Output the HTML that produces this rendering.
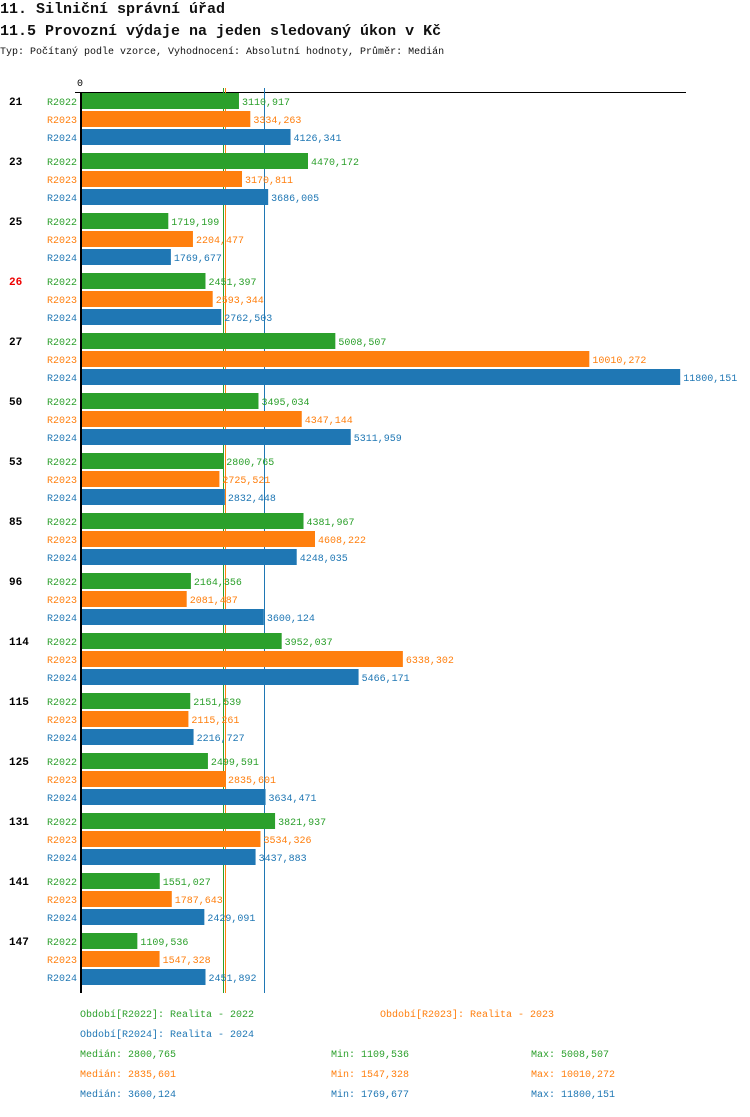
<!DOCTYPE html>
<html><head><meta charset="utf-8"><style>
body{margin:0;background:#fff;width:750px;height:1112px;overflow:hidden}
svg text{font-family:"Liberation Mono",monospace}
</style></head><body>
<svg id="c" width="750" height="1112" xmlns="http://www.w3.org/2000/svg">
<text x="0" y="13" font-size="15" font-weight="bold" fill="#111">11. Silniční správní úřad</text>
<text x="0" y="35" font-size="15" font-weight="bold" fill="#111">11.5 Provozní výdaje na jeden sledovaný úkon v Kč</text>
<text x="0" y="54" font-size="10" fill="#111">Typ: Počítaný podle vzorce, Vyhodnocení: Absolutní hodnoty, Průměr: Medián</text>
<text x="77" y="86" font-size="10" fill="#000">0</text>
<line x1="75" y1="92.5" x2="686" y2="92.5" stroke="#000" stroke-width="1"/>
<g id="lines"></g>
<g id="bars"></g>
<line x1="81" y1="92" x2="81" y2="993" stroke="#000" stroke-width="2"/>
<text x="80" y="1017" font-size="10" fill="#2ca02c">Období[R2022]: Realita - 2022</text>
<text x="380" y="1017" font-size="10" fill="#ff7f0e">Období[R2023]: Realita - 2023</text>
<text x="80" y="1037" font-size="10" fill="#1f77b4">Období[R2024]: Realita - 2024</text>
<g id="stats"></g>
</svg>
<script>
const categories=["21","23","25","26","27","50","53","85","96","114","115","125","131","141","147"];
const seriesNames=["R2022","R2023","R2024"];
const r2022=[3110.917,4470.172,1719.199,2451.397,5008.507,3495.034,2800.765,4381.967,2164.356,3952.037,2151.539,2499.591,3821.937,1551.027,1109.536];
const r2023=[3334.263,3170.811,2204.477,2593.344,10010.272,4347.144,2725.521,4608.222,2081.487,6338.302,2115.261,2835.601,3534.326,1787.643,1547.328];
const r2024=[4126.341,3686.005,1769.677,2762.503,11800.151,5311.959,2832.448,4248.035,3600.124,5466.171,2216.727,3634.471,3437.883,2429.091,2451.892];
const highlighted=["26"];
const colors=["#2ca02c","#ff7f0e","#1f77b4"];
const NS="http://www.w3.org/2000/svg";
const series=[r2022,r2023,r2024];
const x=v=>81+v*0.05078;
const fmt=v=>v.toFixed(3).replace('.',',');
function mk(tag,attrs,parent,txt){const e=document.createElementNS(NS,tag);for(const k in attrs)e.setAttribute(k,attrs[k]);if(txt!==undefined)e.textContent=txt;parent.appendChild(e);return e;}
const bars=document.getElementById('bars');
categories.forEach((c,i)=>{
  const gy=93+i*60;
  const t=mk('text',{x:9,y:gy+12,'font-size':11,'font-weight':'bold',fill:highlighted.includes(c)?'#e00':'#000'},bars,c);
  
  
  series.forEach((s,j)=>{
    const y=gy+j*18;
    const lab=mk('text',{x:77,y:y+12,'font-size':10,fill:colors[j],'text-anchor':'end'},bars,seriesNames[j]);
    
    
    const r=mk('rect',{x:82,y:y,width:Math.max(0,x(s[i])-82),height:16,fill:colors[j]},bars);
    
    
    const v=mk('text',{x:x(s[i])+3,y:y+12,'font-size':10,fill:colors[j]},bars,fmt(s[i]));
    
    
  });
});
const median=a=>{const b=[...a].sort((p,q)=>p-q);return b[Math.floor(b.length/2)];};
const lines=document.getElementById('lines');
const stats=document.getElementById('stats');
series.forEach((s,j)=>{
  const m=median(s);
  const l=mk('line',{x1:Math.round(x(m))+0.5,y1:88,x2:Math.round(x(m))+0.5,y2:993,stroke:colors[j],'stroke-width':1},lines);
  
  
  const y=1057+j*20;
  const a=mk('text',{x:80,y:y,'font-size':10,fill:colors[j]},stats,'Medián: '+fmt(m));
  
  
  const b=mk('text',{x:331,y:y,'font-size':10,fill:colors[j]},stats,'Min: '+fmt(Math.min(...s)));
  
  
  const d=mk('text',{x:531,y:y,'font-size':10,fill:colors[j]},stats,'Max: '+fmt(Math.max(...s)));
  
  
});
</script>
</body></html>
